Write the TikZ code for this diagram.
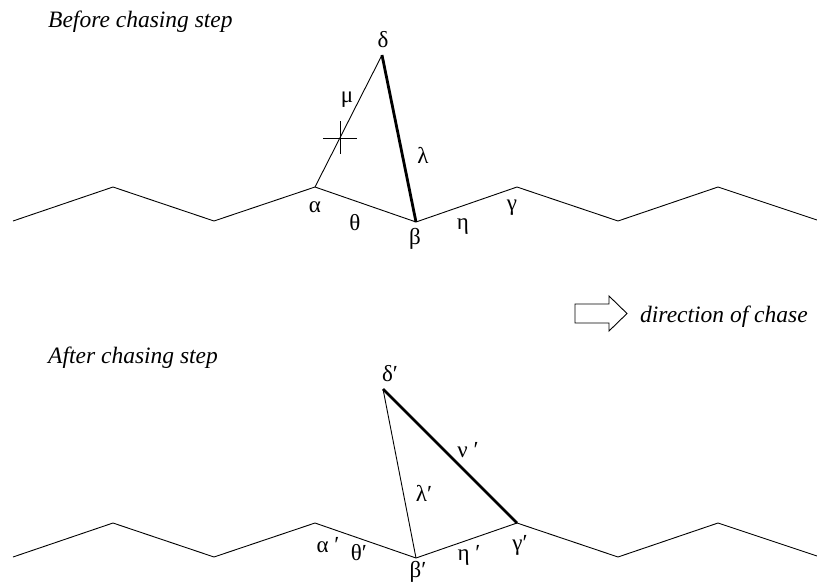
\documentclass[tikz,border=0pt]{standalone}
\usepackage{fontspec}
\setmainfont{Liberation Serif}
\begin{document}
\begin{tikzpicture}[x=1pt,y=-1pt,
  thinln/.style={line width=0.9pt},
  thickln/.style={line width=2.8pt},
  lbl/.style={font=\fontsize{23}{25}\selectfont, inner sep=0pt},
  capt/.style={font=\fontsize{23.5}{26}\selectfont\itshape, inner sep=0pt, anchor=base west}]
\useasboundingbox (0,0) rectangle (817,582);
% top chain
\coordinate (t1) at (13,221);
\coordinate (t2) at (113,187);
\coordinate (t3) at (214,221);
\coordinate (a) at (315,187);
\coordinate (b) at (416,222);
\coordinate (g) at (517,187);
\coordinate (t7) at (618,221);
\coordinate (t8) at (718,187);
\coordinate (t9) at (817,220);
\coordinate (d) at (382,55);
\draw[thinln] (t1)--(t2)--(t3)--(a)--(b)--(g)--(t7)--(t8)--(t9);
\draw[thinln] (a)--(d);
\draw[thickln] (d)--(b);
% tick mark
\coordinate (tk) at (340,138);
\draw[thinln] ([xshift=-17pt]tk) -- ([xshift=17pt]tk);
\draw[thinln] ([yshift=17pt]tk) -- ([yshift=-16pt]tk);
% top labels
\node[lbl] (ld) at (383,40) {δ};
\node[lbl] (lm) at (347,100) {μ};
\node[lbl] (ll) at (423,155) {λ};
\node[lbl] (la) at (315,207) {α};
\node[lbl] (lt) at (355,223) {θ};
\node[lbl] (lb) at (415,239) {β};
\node[lbl] (le) at (463,227) {η};
\node[lbl] (lg) at (512,208) {γ};
% bottom chain
\coordinate (u1) at (13,557);
\coordinate (u2) at (113,523);
\coordinate (u3) at (214,557);
\coordinate (a2) at (315,523);
\coordinate (b2) at (416,558);
\coordinate (g2) at (517,523);
\coordinate (u7) at (618,557);
\coordinate (u8) at (718,523);
\coordinate (u9) at (817,556);
\coordinate (d2) at (383,389);
\draw[thinln] (u1)--(u2)--(u3)--(a2)--(b2)--(g2)--(u7)--(u8)--(u9);
\draw[thinln] (d2)--(b2);
\draw[thickln] (d2)--(g2);
% bottom labels
\node[lbl] (ld2) at (390,374) {δ′};
\node[lbl] (ln2) at (468,450) {ν ′};
\node[lbl] (ll2) at (424,493) {λ′};
\node[lbl] (la2) at (328,545) {α ′};
\node[lbl] (lt2) at (359,553) {θ′};
\node[lbl] (lb2) at (418,572) {β′};
\node[lbl] (le2) at (469,555) {η ′};
\node[lbl] (lg2) at (520,545) {γ′};
% captions
\node[capt] (c1) at (48,27) {Before chasing step};
\node[capt] (c2) at (48,363) {After chasing step};
\node[capt] (c3) at (640,322) {direction of chase};
% hollow arrow
\draw[thinln] (575,304) -- (609,304) -- (609,296) -- (627,313.5) -- (609,331) -- (609,323) -- (575,323) -- cycle;
\end{tikzpicture}
\end{document}
